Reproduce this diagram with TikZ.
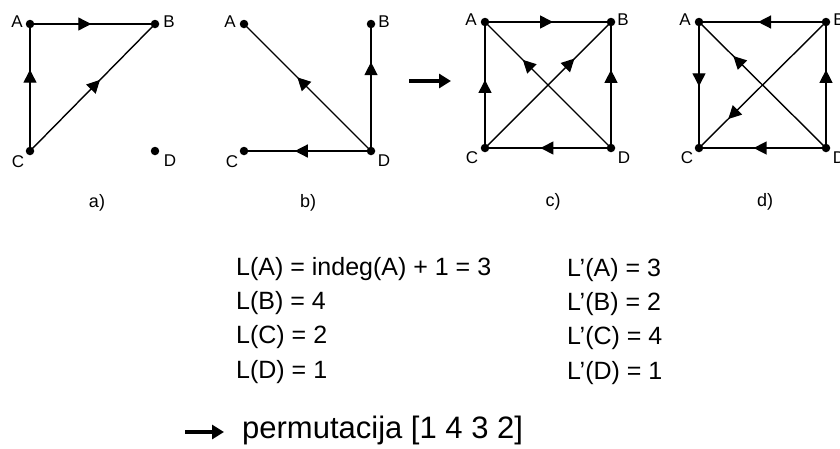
\documentclass[tikz,border=0pt]{standalone}
\usepackage{fontspec}
\setmainfont{Liberation Sans}
\usetikzlibrary{arrows.meta,decorations.markings}
\tikzset{
  vdot/.style={circle,fill=black,inner sep=0pt,minimum size=8.5pt},
  vlab/.style={inner sep=0pt,font=\fontsize{17}{20}\selectfont},
  edge/.style={line width=1.4pt},
  marr/.style={postaction={decorate},decoration={markings,mark=at position #1 with {\arrow{Triangle[length=13pt,width=13pt]}}}},
  bigarr/.style={line width=4.5pt,-{Triangle[length=12pt,width=14pt]}},
  txt/.style={anchor=base west,inner sep=0pt,font=\fontsize{25}{30}\selectfont},
  ptxt/.style={anchor=base west,inner sep=0pt,font=\fontsize{31}{36}\selectfont},
  sub/.style={inner sep=0pt,font=\fontsize{18}{21}\selectfont}
}
\begin{document}
\begin{tikzpicture}[x=1pt,y=-1pt]
\useasboundingbox (0,0) rectangle (840,448);
% ---------- graph a
\node[vdot] (aA) at (30,24) {};
\node[vdot] (aB) at (155,24) {};
\node[vdot] (aC) at (30,151) {};
\node[vdot] (aD) at (155,151) {};
\node[vlab] at (17,22) {A};
\node[vlab] at (169,22) {B};
\node[vlab] at (18,162) {C};
\node[vlab] at (170,161) {D};
\draw[edge,marr=0.64] (aC.center) -- (aA.center);
\draw[edge,marr=0.49] (aA.center) -- (aB.center);
\draw[edge,marr=0.56] (aC.center) -- (aB.center);
\node[sub] (la) at (97,203) {a)};
% ---------- graph b
\node[vdot] (bA) at (244,24) {};
\node[vdot] (bB) at (371,24) {};
\node[vdot] (bC) at (244,151) {};
\node[vdot] (bD) at (371,151) {};
\node[vlab] at (230,22) {A};
\node[vlab] at (384,22) {B};
\node[vlab] at (232,162) {C};
\node[vlab] at (384,161) {D};
\draw[edge,marr=0.58] (bD.center) -- (bA.center);
\draw[edge,marr=0.70] (bD.center) -- (bB.center);
\draw[edge,marr=0.60] (bD.center) -- (bC.center);
\node[sub] (lb) at (308,203) {b)};
% ---------- arrow
\coordinate (r1s) at (409,81);
\coordinate (r1e) at (451,81);
\draw[bigarr] (r1s) -- (r1e);
% ---------- graph c
\node[vdot] (cA) at (485,22) {};
\node[vdot] (cB) at (611,22) {};
\node[vdot] (cC) at (485,148) {};
\node[vdot] (cD) at (611,148) {};
\node[vlab] at (471,20) {A};
\node[vlab] at (623,20) {B};
\node[vlab] at (472,158) {C};
\node[vlab] at (624,158) {D};
\draw[edge,marr=0.54] (cA.center) -- (cB.center);
\draw[edge,marr=0.54] (cC.center) -- (cA.center);
\draw[edge,marr=0.70] (cD.center) -- (cA.center);
\draw[edge,marr=0.71] (cC.center) -- (cB.center);
\draw[edge,marr=0.62] (cD.center) -- (cB.center);
\draw[edge,marr=0.56] (cD.center) -- (cC.center);
\node[sub] (lc) at (553,202) {c)};
% ---------- graph d
\node[vdot] (dA) at (699,22) {};
\node[vdot] (dB) at (826,22) {};
\node[vdot] (dC) at (699,148) {};
\node[vdot] (dD) at (826,148) {};
\node[vlab] at (685,20) {A};
\node[vlab] at (839,20) {B};
\node[vlab] at (687,158) {C};
\node[vlab] at (839,158) {D};
\draw[edge,marr=0.535] (dB.center) -- (dA.center);
\draw[edge,marr=0.51] (dA.center) -- (dC.center);
\draw[edge,marr=0.73] (dD.center) -- (dA.center);
\draw[edge,marr=0.77] (dB.center) -- (dC.center);
\draw[edge,marr=0.62] (dD.center) -- (dB.center);
\draw[edge,marr=0.57] (dD.center) -- (dC.center);
\node[sub] (ld) at (765,202) {d)};
% ---------- text
\node[txt] (t1) at (236,275) {L(A) = indeg(A) + 1 = 3};
\node[txt] (t2) at (236,309) {L(B) = 4};
\node[txt] (t3) at (236,343) {L(C) = 2};
\node[txt] (t4) at (236,378) {L(D) = 1};
\node[txt] (u1) at (567,276) {L’(A) = 3};
\node[txt] (u2) at (567,310) {L’(B) = 2};
\node[txt] (u3) at (567,344) {L’(C) = 4};
\node[txt] (u4) at (567,379) {L’(D) = 1};
\coordinate (r2s) at (185,432);
\coordinate (r2e) at (224,432);
\draw[bigarr] (r2s) -- (r2e);
\node[ptxt] (perm) at (242,438) {permutacija [1 4 3 2]};
\end{tikzpicture}
\end{document}
